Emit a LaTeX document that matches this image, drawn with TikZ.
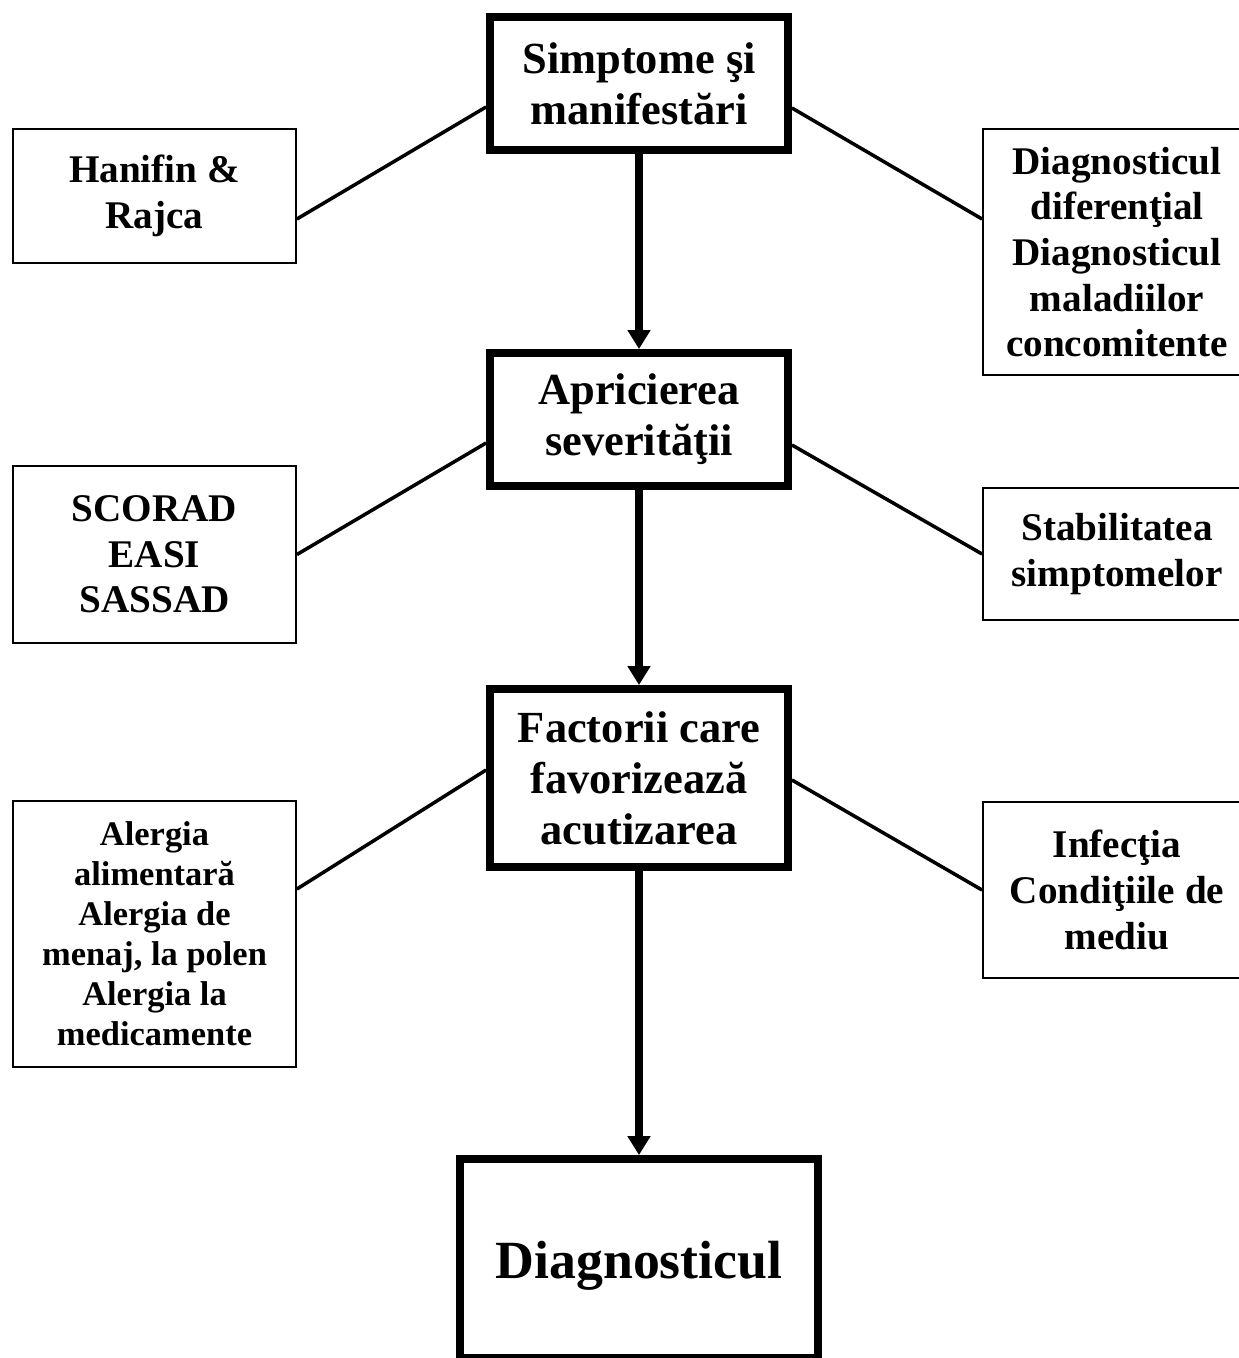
\documentclass[tikz,border=0pt]{standalone}
\usepackage{fontspec}
\setmainfont{Liberation Serif}
\usepackage{tikz}
\usetikzlibrary{arrows.meta}

\tikzset{
  mainbox/.style={draw, line width=4.5pt, align=center, inner sep=2pt,
    font=\bfseries\fontsize{25.3}{29}\selectfont, minimum width=5.96cm},
  sidebox/.style={draw, line width=1.1pt, align=center, inner sep=2pt,
    font=\bfseries\fontsize{22.3}{26}\selectfont},
  smallbox/.style={sidebox, font=\bfseries\fontsize{19.6}{22.8}\selectfont},
  link/.style={line width=2pt},
  arrowline/.style={line width=4pt, -{Triangle[width=0.44cm,length=0.38cm]}}
}

\begin{document}
\begin{tikzpicture}[x=0.02cm,y=-0.02cm]
\useasboundingbox (0,0) rectangle (1239,1358);
\node[mainbox, minimum height=2.66cm] (simpt) at (639,83.5) {Simptome şi\\manifestări};
\node[mainbox, minimum height=2.66cm] (sever) at (639,419.5) {Apricierea\\severităţii};
\node[mainbox, minimum height=3.56cm] (factori) at (639,778) {Factorii care\\favorizează\\acutizarea};
\node[mainbox, minimum width=7.16cm, minimum height=3.98cm, text height=1.05cm,
  font=\bfseries\fontsize{30.6}{35}\selectfont] (diagn) at (639,1258.5) {Diagnosticul};

\node[sidebox, minimum width=5.66cm, minimum height=2.68cm] (hanifin) at (154.5,196) {Hanifin \&\\Rajca};
\node[sidebox, minimum width=5.66cm, minimum height=3.54cm] (scorad) at (154.5,554.5) {SCORAD\\EASI\\SASSAD};
\node[smallbox, minimum width=5.66cm, minimum height=5.32cm] (alergia) at (154.5,934)
  {Alergia\\alimentară\\Alergia de\\menaj, la polen\\Alergia la\\medicamente};

\node[sidebox, minimum width=5.36cm, minimum height=4.92cm] (difer) at (1117,252)
  {Diagnosticul\\diferenţial\\Diagnosticul\\maladiilor\\concomitente};
\node[sidebox, minimum width=5.36cm, minimum height=2.64cm] (stabil) at (1117,554) {Stabilitatea\\simptomelor};
\node[sidebox, minimum width=5.36cm, minimum height=3.52cm] (infect) at (1117,890) {Infecţia\\Condiţiile de\\mediu};

\path[arrowline]
  (simpt) edge (sever)
  (sever) edge (factori)
  (factori) edge (diagn);

\draw[link] ([yshift=-0.47cm]simpt.west) -- ([yshift=-0.46cm]hanifin.east);
\draw[link] ([yshift=-0.49cm]simpt.east) -- ([yshift=0.66cm]difer.west);
\draw[link] ([yshift=-0.47cm]sever.west) -- (scorad.east);
\draw[link] ([yshift=-0.51cm]sever.east) -- (stabil.west);
\draw[link] ([yshift=0.16cm]factori.west) -- ([yshift=0.9cm]alergia.east);
\draw[link] ([yshift=-0.04cm]factori.east) -- (infect.west);
\end{tikzpicture}
\end{document}
